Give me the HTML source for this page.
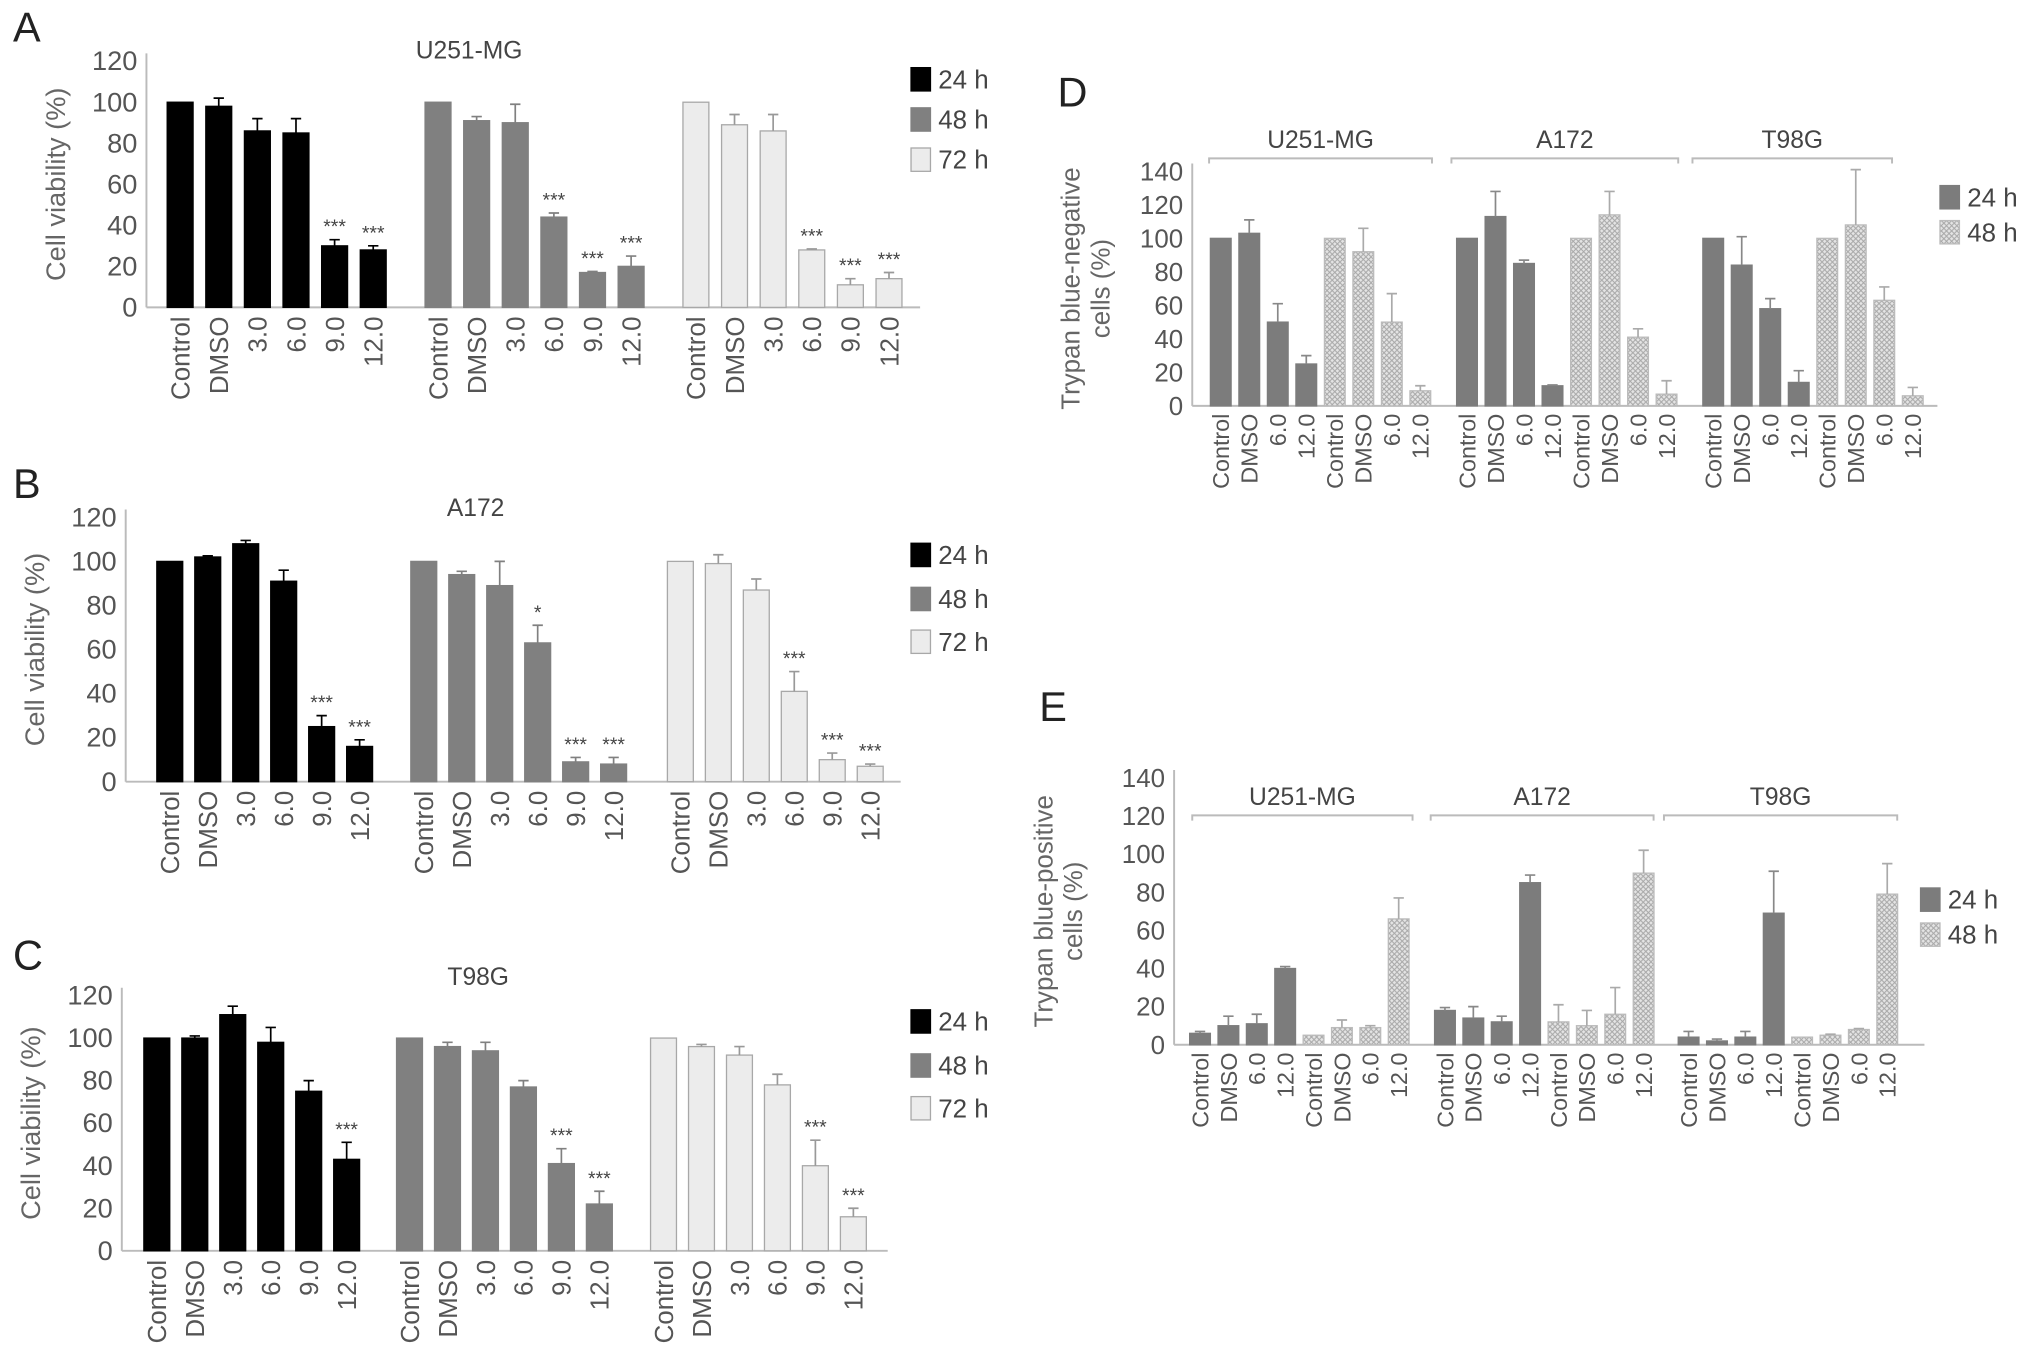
<!DOCTYPE html>
<html><head><meta charset="utf-8"><style>
html,body{margin:0;padding:0;background:#fff;}
svg{display:block;font-family:"Liberation Sans",sans-serif;}
</style></head>
<body>
<svg id="fig" width="2032" height="1369" viewBox="0 0 1568 1056" xmlns="http://www.w3.org/2000/svg">
<defs>
<pattern id="hatch" patternUnits="userSpaceOnUse" width="4" height="4">
<rect width="4" height="4" fill="#e4e4e4"/>
<path d="M0,0 L4,4 M4,0 L0,4" stroke="#a8a8a8" stroke-width="0.8"/>
</pattern>
</defs>
</svg>
<script>
// ---- Data: panels A-C (cell viability %) ----
const cvCategories = ["Control","DMSO","3.0","6.0","9.0","12.0"];
const cvSeries = ["24 h","48 h","72 h"];
const yTicksCV = [0,20,40,60,80,100,120];

const A24 = [100,98,86,85,30,28];   const A24e = [0,4,6,7,3,2];
const A48 = [100,91,90,44,17,20];   const A48e = [0,2,9,2,0.5,5];
const A72 = [100,89,86,28,11,14];   const A72e = [0,5,8,0.5,3,3];
const A24s = ["","","","","***","***"];
const A48s = ["","","","***","***","***"];
const A72s = ["","","","***","***","***"];

const B24 = [100,102,108,91,25,16]; const B24e = [0,0.5,1.5,5,5,3];
const B48 = [100,94,89,63,9,8];     const B48e = [0,1.5,11,8,2,3];
const B72 = [100,99,87,41,10,7];    const B72e = [0,4,5,9,3,1];
const B24s = ["","","","","***","***"];
const B48s = ["","","","*","***","***"];
const B72s = ["","","","***","***","***"];

const C24 = [100,100,111,98,75,43]; const C24e = [0,1,4,7,5,8];
const C48 = [100,96,94,77,41,22];   const C48e = [0,2,4,3,7,6];
const C72 = [100,96,92,78,40,16];   const C72e = [0,1,4,5,12,4];
const C24s = ["","","","","","***"];
const C48s = ["","","","","***","***"];
const C72s = ["","","","","***","***"];

// ---- Data: panels D-E (trypan blue %) ----
const tbCategories = ["Control","DMSO","6.0","12.0"];
const tbCells = ["U251-MG","A172","T98G"];
const yTicksTB = [0,20,40,60,80,100,120,140];

const DU24 = [100,103,50,25];  const DU24e = [0,8,11,5];
const DU48 = [100,92,50,9];    const DU48e = [0,14,17,3];
const DA24 = [100,113,85,12];  const DA24e = [0,15,2,0.5];
const DA48 = [100,114,41,7];   const DA48e = [0,14,5,8];
const DT24 = [100,84,58,14];   const DT24e = [0,17,6,7];
const DT48 = [100,108,63,6];   const DT48e = [0,33,8,5];

const EU24 = [6,10,11,40];     const EU24e = [1,5,5,1];
const EU48 = [5,9,9,66];       const EU48e = [0,4,1,11];
const EA24 = [18,14,12,85];    const EA24e = [1.5,6,3,4];
const EA48 = [12,10,16,90];    const EA48e = [9,8,14,12];
const ET24 = [4,2,4,69];       const ET24e = [3,1,3,22];
const ET48 = [4,5,8,79];       const ET48e = [0,0.5,0.5,16];

const NS = "http://www.w3.org/2000/svg";
const svg = document.getElementById('fig');
function mk(tag, attrs, parent, text){
  const e = document.createElementNS(NS, tag);
  for (const k in attrs) e.setAttribute(k, attrs[k]);
  if (text !== undefined) e.textContent = text;
  (parent || svg).appendChild(e);
  return e;
}
const TXT = "#555";

function axes(g, x0, y0, yTop, xEnd, ticks, maxV, fs){
  const sy = v => y0 - (v / maxV) * (y0 - yTop);
  const ax = mk('line',{x1:x0,y1:y0,x2:x0,y2:yTop-6,stroke:'#bbb','stroke-width':1.5},g);
  
  
  const bx = mk('line',{x1:x0,y1:y0,x2:xEnd,y2:y0,stroke:'#bbb','stroke-width':1.5},g);
  
  
  ticks.forEach(t=>{
    const tl = mk('text',{x:x0-7,y:sy(t)+7,'text-anchor':'end','font-size':fs,fill:TXT},g,String(t));
    
    
  });
  return sy;
}

function bar(g, cx, w, v, e, sy, fill, stroke, errCol, star){
  const y = sy(v), y0 = sy(0);
  const r = mk('rect',{x:cx-w/2,y:y,width:w,height:y0-y,fill:fill,stroke:stroke,'stroke-width':1},g);
  
  
  const ye = sy(v+e);
  if (e > 0){
    const el = mk('path',{d:`M${cx},${y} L${cx},${ye} M${cx-4},${ye} L${cx+4},${ye}`,stroke:errCol,'stroke-width':1.3,fill:'none'},g);
    
    
  }
  if (star){
    const st = mk('text',{x:cx,y:ye-5,'text-anchor':'middle','font-size':15,fill:'#444'},g,star);
    
    
  }
}

function xlabel(g, cx, y, label, fs){
  const t = mk('text',{x:cx+fs*0.36,y:y,'text-anchor':'end','font-size':fs,fill:TXT,transform:`rotate(-90 ${cx+fs*0.36} ${y})`},g,label);
  
  
}

function legend(g, x, ys, labels, fills, strokes, fs){
  labels.forEach((l,i)=>{
    const sw = mk('rect',{x:x,y:ys[i],width:15,height:18,fill:fills[i],stroke:strokes[i]},g);
    
    
    const t = mk('text',{x:x+21,y:ys[i]+16,'font-size':fs,fill:'#444'},g,l);
    
    
  });
}

function label(txt, x, y, name){
  const t = mk('text',{x:x,y:y,'font-size':32,fill:'#222'},svg,txt);
  
  
}

// Panels A-C
function cvPanel(name, letter, lx, ly, cfg){
  const g = mk('g',{}); 
  
  
  label(letter, lx, ly, 'panel-label-'+letter.toLowerCase());
  const sy = axes(g, cfg.x0, cfg.y0, cfg.yTop, cfg.xEnd, yTicksCV, 120, 21);
  const fills = ['#000','#808080','#ececec'];
  const strokes = ['#000','#808080','#a8a8a8'];
  const errc = ['#000','#808080','#999'];
  cfg.series.forEach((s,si)=>{
    cvCategories.forEach((c,i)=>{
      const cx = cfg.starts[si] + i*cfg.sp;
      bar(g, cx, 20, s.v[i], s.e[i], sy, fills[si], strokes[si], errc[si], s.s[i]);
      xlabel(g, cx, cfg.y0+7, c, 20);
    });
  });
  const tt = mk('text',{x:cfg.titleX,y:cfg.titleY,'text-anchor':'middle','font-size':19,fill:'#444'},g,cfg.title);
  
  
  const yt = mk('text',{x:0,y:0,'text-anchor':'middle','font-size':21,fill:'#666',transform:`translate(${cfg.x0-63},${(cfg.y0+cfg.yTop)/2}) rotate(-90)`},g,'Cell viability (%)');
  
  
  legend(g, cfg.legX, cfg.legY, cvSeries, fills, strokes, 20);
}

cvPanel('panel-a-chart','A',10,32,{x0:113,y0:237,yTop:47,xEnd:710,sp:29.8,starts:[139,338,537],
  series:[{v:A24,e:A24e,s:A24s},{v:A48,e:A48e,s:A48s},{v:A72,e:A72e,s:A72s}],
  title:'U251-MG',titleX:362,titleY:45,legX:703,legY:[52,83,114]});
cvPanel('panel-b-chart','B',10,384,{x0:97,y0:603,yTop:399,xEnd:695,sp:29.3,starts:[131,327,525],
  series:[{v:B24,e:B24e,s:B24s},{v:B48,e:B48e,s:B48s},{v:B72,e:B72e,s:B72s}],
  title:'A172',titleX:367,titleY:398,legX:703,legY:[419,453,486]});
cvPanel('panel-c-chart','C',10,748,{x0:94,y0:965,yTop:768,xEnd:685,sp:29.3,starts:[121,316,512],
  series:[{v:C24,e:C24e,s:C24s},{v:C48,e:C48e,s:C48s},{v:C72,e:C72e,s:C72s}],
  title:'T98G',titleX:369,titleY:760,legX:703,legY:[779,813,846]});

// Panels D-E
function tbPanel(name, letter, lx, ly, cfg){
  const g = mk('g',{});
  
  
  label(letter, lx, ly, 'panel-label-'+letter.toLowerCase());
  const sy = axes(g, cfg.x0, cfg.y0, cfg.yTop, cfg.xEnd, yTicksTB, 140, 20);
  tbCells.forEach((cell,gi)=>{
    const d = cfg.data[gi];
    tbCategories.forEach((c,i)=>{
      const cx1 = cfg.starts[gi] + i*cfg.sp;
      bar(g, cx1, 16, d.v24[i], d.e24[i], sy, '#7c7c7c', '#7c7c7c', '#888', '');
      xlabel(g, cx1, cfg.y0+6, c, 18);
      const cx2 = cfg.starts[gi] + (i+4)*cfg.sp;
      bar(g, cx2, 16, d.v48[i], d.e48[i], sy, 'url(#hatch)', '#bbb', '#aaa', '');
      xlabel(g, cx2, cfg.y0+6, c, 18);
    });
    const b = cfg.brackets[gi];
    const bl = mk('path',{d:`M${b[0]},${cfg.brY+4} L${b[0]},${cfg.brY} L${b[1]},${cfg.brY} L${b[1]},${cfg.brY+4}`,stroke:'#bbb','stroke-width':1.5,fill:'none'},g);
    
    
    const gt = mk('text',{x:(b[0]+b[1])/2,y:cfg.brY-8,'text-anchor':'middle','font-size':19,fill:'#444'},g,cell);
    
    
  });
  const cy = (cfg.y0+cfg.yTop)/2;
  const yt = mk('text',{x:0,y:0,'text-anchor':'middle','font-size':20,fill:'#666',transform:`translate(${cfg.ytX},${cy}) rotate(-90)`},g,cfg.ytitle1);
  
  
  const yt2 = mk('text',{x:0,y:0,'text-anchor':'middle','font-size':20,fill:'#666',transform:`translate(${cfg.ytX+23},${cy}) rotate(-90)`},g,'cells (%)');
  
  
  legend(g, cfg.legX, cfg.legY, ['24 h','48 h'], ['#7c7c7c','url(#hatch)'], ['#7c7c7c','#bbb'], 20);
}

tbPanel('panel-d-chart','D',816,82,{x0:920,y0:313,yTop:132,xEnd:1495,sp:22,starts:[942,1132,1322],
  data:[{v24:DU24,e24:DU24e,v48:DU48,e48:DU48e},{v24:DA24,e24:DA24e,v48:DA48,e48:DA48e},{v24:DT24,e24:DT24e,v48:DT48,e48:DT48e}],
  brackets:[[933,1105],[1120,1295],[1306,1460]],brY:122,ytitle1:'Trypan blue-negative',ytX:833,
  legX:1497,legY:[143,170]});
tbPanel('panel-e-chart','E',802,556,{x0:906,y0:806,yTop:600,xEnd:1485,sp:21.9,starts:[926,1115,1303],
  data:[{v24:EU24,e24:EU24e,v48:EU48,e48:EU48e},{v24:EA24,e24:EA24e,v48:EA48,e48:EA48e},{v24:ET24,e24:ET24e,v48:ET48,e48:ET48e}],
  brackets:[[920,1090],[1104,1276],[1284,1464]],brY:629,ytitle1:'Trypan blue-positive',ytX:812,
  legX:1482,legY:[685,712]});
</script>
</body></html>
